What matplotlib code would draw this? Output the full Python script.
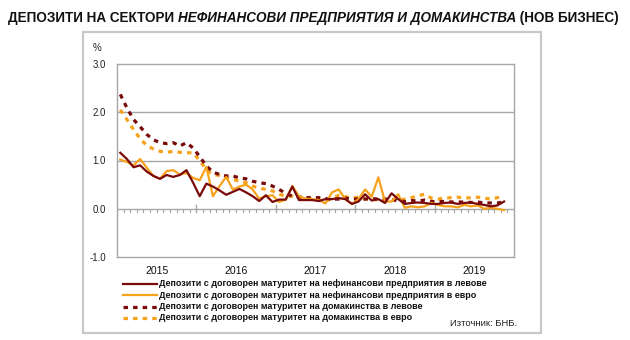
import matplotlib
matplotlib.use("Agg")
import matplotlib.pyplot as plt
from matplotlib.patches import Rectangle
from matplotlib.lines import Line2D

plt.rcParams['font.family'] = ['Liberation Sans', 'DejaVu Sans']

# ---- data (monthly, Jan 2015 - Nov 2019), % ----
nfc_bgn = [1.16, 1.03, 0.86, 0.90, 0.77, 0.68, 0.62, 0.70, 0.66, 0.70, 0.80, 0.54,
           0.26, 0.52, 0.46, 0.38, 0.29, 0.35, 0.41, 0.34, 0.26, 0.16, 0.28, 0.14,
           0.19, 0.19, 0.46, 0.18, 0.18, 0.18, 0.16, 0.20, 0.20, 0.22, 0.20, 0.10,
           0.15, 0.30, 0.17, 0.20, 0.12, 0.32, 0.20, 0.10, 0.12, 0.13, 0.12, 0.10,
           0.10, 0.12, 0.13, 0.10, 0.12, 0.13, 0.10, 0.08, 0.05, 0.07, 0.15]
nfc_eur = [1.02, 0.97, 0.90, 1.03, 0.85, 0.68, 0.62, 0.78, 0.80, 0.71, 0.74, 0.64,
           0.59, 0.87, 0.26, 0.47, 0.66, 0.40, 0.46, 0.50, 0.40, 0.21, 0.26, 0.28,
           0.14, 0.19, 0.47, 0.26, 0.21, 0.20, 0.18, 0.11, 0.34, 0.40, 0.20, 0.10,
           0.20, 0.40, 0.25, 0.65, 0.15, 0.15, 0.30, 0.02, 0.05, 0.03, 0.05, 0.12,
           0.08, 0.05, 0.05, 0.03, 0.08, 0.05, 0.07, 0.00, 0.02, 0.00, -0.03]
hh_bgn = [2.37, 2.09, 1.85, 1.70, 1.54, 1.43, 1.37, 1.35, 1.37, 1.30, 1.37, 1.26,
          1.08, 0.89, 0.76, 0.71, 0.68, 0.68, 0.64, 0.62, 0.57, 0.54, 0.52, 0.47,
          0.40, 0.32, 0.26, 0.25, 0.23, 0.23, 0.23, 0.21, 0.20, 0.20, 0.22, 0.20,
          0.20, 0.20, 0.21, 0.20, 0.20, 0.20, 0.16, 0.15, 0.17, 0.16, 0.18, 0.15,
          0.15, 0.15, 0.14, 0.14, 0.14, 0.13, 0.14, 0.12, 0.12, 0.12, 0.14]
hh_eur = [2.05, 1.85, 1.64, 1.45, 1.31, 1.24, 1.19, 1.17, 1.19, 1.17, 1.16, 1.16,
          1.00, 0.81, 0.71, 0.69, 0.64, 0.61, 0.57, 0.54, 0.47, 0.43, 0.40, 0.37,
          0.30, 0.26, 0.26, 0.23, 0.21, 0.20, 0.18, 0.16, 0.21, 0.28, 0.25, 0.22,
          0.24, 0.20, 0.20, 0.18, 0.17, 0.18, 0.17, 0.20, 0.23, 0.27, 0.30, 0.22,
          0.20, 0.22, 0.23, 0.24, 0.22, 0.23, 0.24, 0.22, 0.20, 0.23, 0.26]
years = ['2015', '2016', '2017', '2018', '2019']
y_ticks = [-1.0, 0.0, 1.0, 2.0, 3.0]
legend_labels = [
    'Депозити с договорен матуритет на нефинансови предприятия в левове',
    'Депозити с договорен матуритет на нефинансови предприятия в евро',
    'Депозити с договорен матуритет на домакинства в левове',
    'Депозити с договорен матуритет на домакинства в евро',
]
title_parts = [('ДЕПОЗИТИ НА СЕКТОРИ ', 'normal'),
               ('НЕФИНАНСОВИ ПРЕДПРИЯТИЯ И ДОМАКИНСТВА', 'italic'),
               (' (НОВ БИЗНЕС)', 'normal')]
source = 'Източник: БНБ.'

DARK = '#7a0a0a'
ORANGE = '#f7a21b'
GRID = '#a6a6a6'

W, H = 630, 340
fig = plt.figure(figsize=(W / 100, H / 100), dpi=100)
fig.patch.set_facecolor('white')


def fx(px):
    return px / W


def fy(py):
    return 1 - py / H


# outer box
fig.patches.append(Rectangle((fx(83), fy(333)), fx(541) - fx(83), fy(32) - fy(333),
                             transform=fig.transFigure, fill=False,
                             edgecolor='#c8c8c8', linewidth=1.6))

ax = fig.add_axes([fx(117), fy(257), fx(514) - fx(117), fy(64) - fy(257)])
n = len(nfc_bgn)
x = list(range(n))
ax.plot(x, nfc_bgn, color=DARK, lw=1.6, zorder=5)
ax.plot(x, nfc_eur, color=ORANGE, lw=1.6, zorder=4)
dash = (0, (1.4, 1.6))
ax.plot(x, hh_bgn, color=DARK, lw=2.3, linestyle=dash, zorder=3)
ax.plot(x, hh_eur, color=ORANGE, lw=2.3, linestyle=dash, zorder=2)

ax.set_xlim(-0.5, 59.5)
ax.set_ylim(-1, 3)
for s in ax.spines.values():
    s.set_color(GRID)
    s.set_linewidth(1.0)
for yv in (1.0, 2.0):
    ax.axhline(yv, color=GRID, lw=1.0, zorder=1)
ax.axhline(0, color=GRID, lw=1.0, zorder=1)

# category ticks on the zero line
for k in range(1, 60):
    major = (k % 12 == 0)
    if major:
        ax.plot([k - 0.5, k - 0.5], [-0.07, 0.07], color=GRID, lw=1.0, zorder=1)
    else:
        ax.plot([k - 0.5, k - 0.5], [0, -0.07], color=GRID, lw=0.8, zorder=1)

ax.set_xticks([])
ax.set_yticks(y_ticks)
ax.set_yticklabels([f'{v:.1f}' for v in y_ticks], fontsize=7, color='#222222')
ax.tick_params(axis='y', length=0, pad=8)

blend = matplotlib.transforms.blended_transform_factory(ax.transData, fig.transFigure)
for j, yr in enumerate(years):
    ax.text(j * 12 + 5.5, fy(271), yr, transform=blend, ha='center', va='center',
            fontsize=7.6, color='#111111')

fig.text(fx(97), fy(48), '%', fontsize=7, ha='center', va='center', color='#222222')

renderer = fig.canvas.get_renderer()


# title, fitted to its span in the reference
def draw_title(size):
    texts = []
    xpos = fx(8)
    bb = None
    for s, style in title_parts:
        t = fig.text(xpos, fy(18), s, fontsize=size, fontweight='bold', style=style,
                     ha='left', va='center', color='#111111')
        bb = t.get_window_extent(renderer)
        xpos = fx(bb.x1)
        texts.append(t)
    return texts, bb.x1


texts, right = draw_title(10)
for t in texts:
    t.remove()
size = 10 * (619 - 8) / (right - 8)
draw_title(size)

# legend
leg_y = [283.5, 295, 306.5, 318]
probe = fig.text(0, 0, legend_labels[0], fontsize=10, fontweight='bold')
wprobe = probe.get_window_extent(renderer).width
probe.remove()
lsize = 10 * 330 / wprobe
styles = [(DARK, '-', 1.6), (ORANGE, '-', 1.6), (DARK, dash, 2.3), (ORANGE, dash, 2.3)]
for yy, lab, (c, ls, lw) in zip(leg_y, legend_labels, styles):
    fig.lines.append(Line2D([fx(123), fx(157)], [fy(yy), fy(yy)], transform=fig.transFigure,
                            color=c, linestyle=ls, lw=lw))
    fig.text(fx(159), fy(yy), lab, fontsize=lsize, fontweight='bold', ha='left',
             va='center', color='#111111')

fig.text(fx(517), fy(323.5), source, fontsize=6.8, ha='right', va='center', color='#222222')

fig.savefig('out.png', dpi=100)
